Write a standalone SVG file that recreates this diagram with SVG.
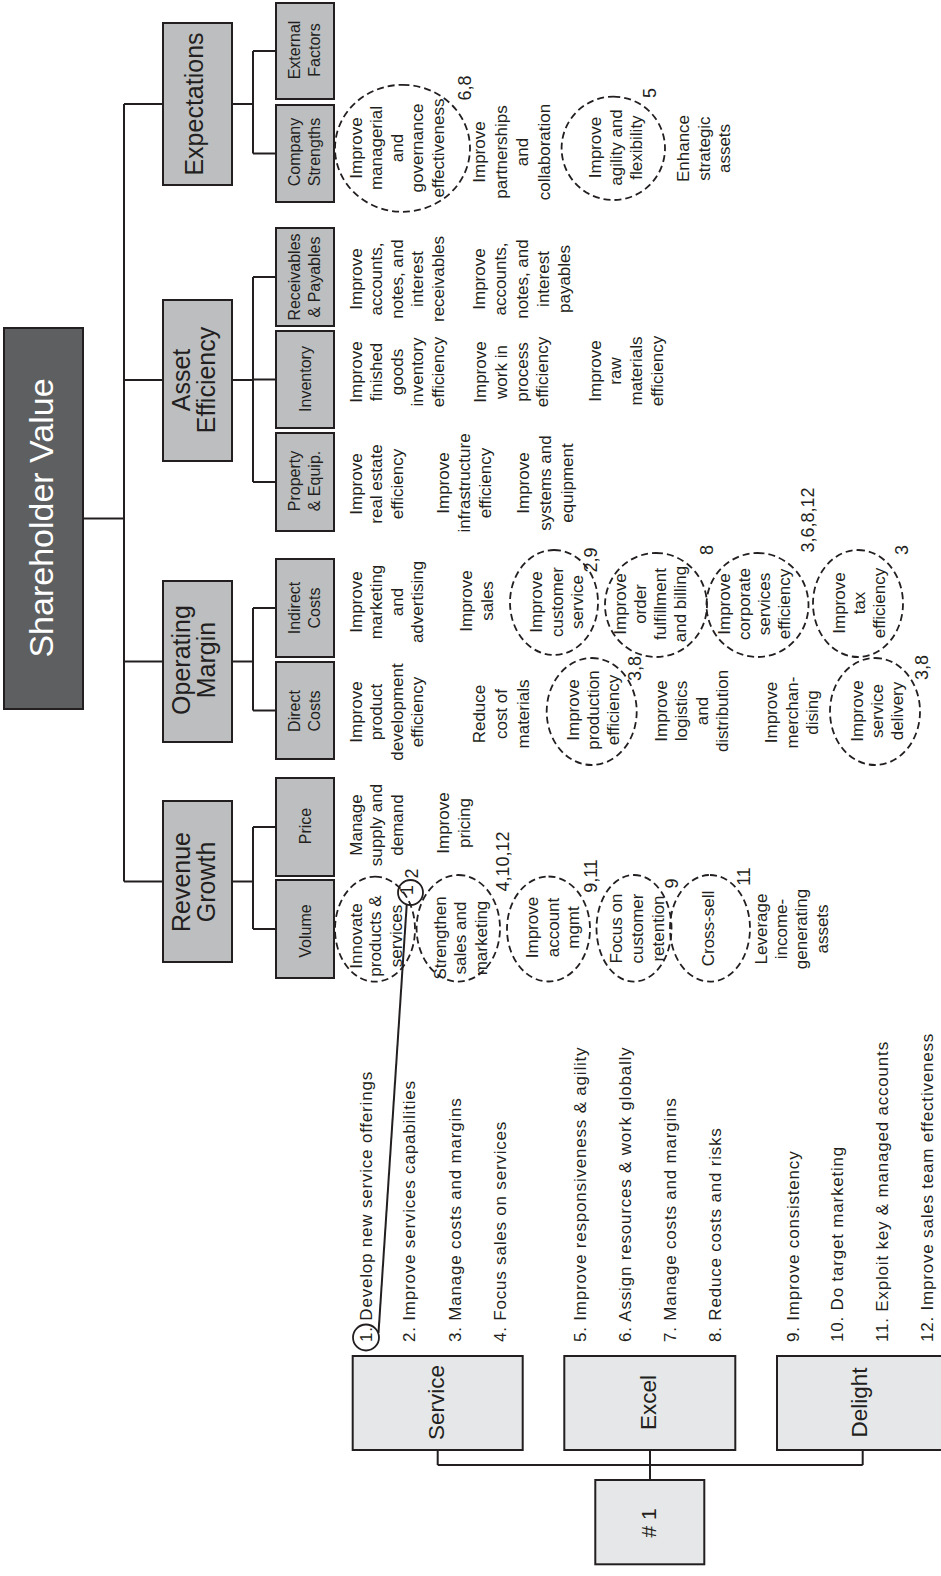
<svg xmlns="http://www.w3.org/2000/svg" width="941" height="1576" viewBox="0 0 941 1576">
<style>
.box{fill:#bcbec0;stroke:#231f20;stroke-width:2}
.lbox{fill:#e6e7e8;stroke:#231f20;stroke-width:2}
.dark{fill:#5e5f61;stroke:#231f20;stroke-width:2}
.conn{fill:none;stroke:#231f20;stroke-width:2}
.ring{fill:none;stroke:#231f20;stroke-width:1.8}
.dash{fill:none;stroke:#231f20;stroke-width:1.8;stroke-dasharray:7 4}
text{font-family:"Liberation Sans",Arial,Helvetica,sans-serif;fill:#231f20}
.t{font-size:17px;text-anchor:middle}
.cat{font-size:25px;text-anchor:middle}
.sub{font-size:16px;text-anchor:middle}
.num{font-size:18px;text-anchor:middle}
.big{font-size:22.5px;text-anchor:middle}
.list{font-size:17px;letter-spacing:0.8px}
.sv{font-size:34px;text-anchor:middle;fill:#ffffff}
</style>
<rect x="0" y="0" width="941" height="1576" fill="#ffffff"/>
<g transform="translate(0,1576) rotate(-90)">
<g id="connectors">
<path class="conn" d="M1057.5 83V124M694.5 124H1472M1472 124V163M1196 124V163M914.5 124V163M694.5 124V163"/>
<path class="conn" d="M1472 232V253M1422.5 253H1525M1422.5 253V276M1525 253V276"/>
<path class="conn" d="M1196 232V253M1094 253H1299M1094 253V276M1196.5 253V276M1299 253V276"/>
<path class="conn" d="M914.5 232V253M865.5 253H968M865.5 253V276M968 253V276"/>
<path class="conn" d="M694.5 232V253M647 253H749M647 253V276M749 253V276"/>
<path class="conn" d="M126 437.7H111M126 650H96M126 862.7H111M111 437.7V862.7"/>
<path class="conn" d="M243 378.5L671 406.7" stroke-width="1.6"/>
</g>
<g id="shareholder-value"><rect class="dark" x="867" y="4" width="381" height="79"/><text class="sv" x="1058" y="53">Shareholder Value</text></g>
<g id="expectations"><rect class="box" x="1391" y="163" width="162" height="69"/><text class="cat" x="1472" y="203">Expectations</text></g>
<g id="asset-efficiency"><rect class="box" x="1115" y="163" width="161" height="69"/><text class="cat"><tspan x="1196" y="190">Asset</tspan><tspan x="1196" y="215">Efficiency</tspan></text></g>
<g id="operating-margin"><rect class="box" x="834" y="163" width="161" height="69"/><text class="cat"><tspan x="916" y="190">Operating</tspan><tspan x="916" y="215">Margin</tspan></text></g>
<g id="revenue-growth"><rect class="box" x="614" y="163" width="161" height="69"/><text class="cat"><tspan x="694" y="190">Revenue</tspan><tspan x="694" y="215">Growth</tspan></text></g>

<g id="external-factors"><rect class="box" x="1477" y="276" width="96" height="58"/><text class="sub"><tspan x="1526" y="300">External</tspan><tspan x="1526" y="320">Factors</tspan></text></g>
<g id="company-strengths"><rect class="box" x="1374" y="276" width="97" height="58"/><text class="sub"><tspan x="1424" y="300">Company</tspan><tspan x="1424" y="320">Strengths</tspan></text></g>
<g id="receivables-payables"><rect class="box" x="1250" y="276" width="98" height="58"/><text class="sub"><tspan x="1299" y="300">Receivables</tspan><tspan x="1299" y="320">&amp; Payables</tspan></text></g>
<g id="inventory"><rect class="box" x="1148" y="276" width="97" height="58"/><text class="sub" x="1197" y="311">Inventory</text></g>
<g id="property-equip"><rect class="box" x="1045" y="276" width="98" height="58"/><text class="sub"><tspan x="1095" y="300">Property</tspan><tspan x="1095" y="320">&amp; Equip.</tspan></text></g>
<g id="indirect-costs"><rect class="box" x="919" y="276" width="98" height="58"/><text class="sub"><tspan x="968" y="300">Indirect</tspan><tspan x="968" y="320">Costs</tspan></text></g>
<g id="direct-costs"><rect class="box" x="817" y="276" width="97" height="58"/><text class="sub"><tspan x="865" y="300">Direct</tspan><tspan x="865" y="320">Costs</tspan></text></g>
<g id="price"><rect class="box" x="700" y="276" width="98" height="58"/><text class="sub" x="750" y="311">Price</text></g>
<g id="volume"><rect class="box" x="598" y="276" width="98" height="58"/><text class="sub" x="645" y="311">Volume</text></g>

<g id="company-items">
<ellipse class="dash" cx="1427.7" cy="402.5" rx="63.5" ry="67.5"/>
<text class="t"><tspan x="1428" y="361.5">Improve</tspan><tspan x="1428" y="382">managerial</tspan><tspan x="1428" y="402.5">and</tspan><tspan x="1428" y="423">governance</tspan><tspan x="1428" y="443.5">effectiveness</tspan></text>
<text class="num" x="1488" y="471">6,8</text>
<text class="t"><tspan x="1424" y="485">Improve</tspan><tspan x="1424" y="506.5">partnerships</tspan><tspan x="1424" y="528">and</tspan><tspan x="1424" y="549.5">collaboration</tspan></text>
<ellipse class="dash" cx="1427.7" cy="613.3" rx="51.7" ry="51.7"/>
<text class="t"><tspan x="1428.5" y="600.5">Improve</tspan><tspan x="1428.5" y="621.5">agility and</tspan><tspan x="1428.5" y="642">flexibility</tspan></text>
<text class="num" x="1483" y="656">5</text>
<text class="t"><tspan x="1427.5" y="689">Enhance</tspan><tspan x="1427.5" y="709.5">strategic</tspan><tspan x="1427.5" y="730">assets</tspan></text>
</g>
<g id="receivables-items">
<text class="t"><tspan x="1297" y="361.5">Improve</tspan><tspan x="1297" y="382">accounts,</tspan><tspan x="1297" y="402.5">notes, and</tspan><tspan x="1297" y="423">interest</tspan><tspan x="1297" y="443.5">receivables</tspan></text>
<text class="t"><tspan x="1297" y="485">Improve</tspan><tspan x="1297" y="506">accounts,</tspan><tspan x="1297" y="527.5">notes, and</tspan><tspan x="1297" y="548.5">interest</tspan><tspan x="1297" y="570">payables</tspan></text>
</g>
<g id="inventory-items">
<text class="t"><tspan x="1204" y="361.5">Improve</tspan><tspan x="1204" y="382">finished</tspan><tspan x="1204" y="402.5">goods</tspan><tspan x="1204" y="423">inventory</tspan><tspan x="1204" y="443.5">efficiency</tspan></text>
<text class="t"><tspan x="1204" y="486">Improve</tspan><tspan x="1204" y="507">work in</tspan><tspan x="1204" y="527.5">process</tspan><tspan x="1204" y="548">efficiency</tspan></text>
<text class="t"><tspan x="1205" y="600.5">Improve</tspan><tspan x="1205" y="621">raw</tspan><tspan x="1205" y="641.5">materials</tspan><tspan x="1205" y="662.5">efficiency</tspan></text>
</g>
<g id="property-items">
<text class="t"><tspan x="1092" y="361.5">Improve</tspan><tspan x="1092" y="382">real estate</tspan><tspan x="1092" y="402.5">efficiency</tspan></text>
<text class="t"><tspan x="1093" y="449">Improve</tspan><tspan x="1093" y="470">infrastructure</tspan><tspan x="1093" y="490.5">efficiency</tspan></text>
<text class="t"><tspan x="1093" y="528.5">Improve</tspan><tspan x="1093" y="551">systems and</tspan><tspan x="1093" y="573">equipment</tspan></text>
</g>
<g id="indirect-items">
<text class="t"><tspan x="974" y="361.5">Improve</tspan><tspan x="974" y="382">marketing</tspan><tspan x="974" y="402.5">and</tspan><tspan x="974" y="423">advertising</tspan></text>
<text class="t"><tspan x="975" y="472">Improve</tspan><tspan x="975" y="492.5">sales</tspan></text>
<ellipse class="dash" cx="973.5" cy="554" rx="52.5" ry="44"/>
<text class="t"><tspan x="974" y="542">Improve</tspan><tspan x="974" y="562.5">customer</tspan><tspan x="974" y="583">service</tspan></text>
<text class="num" x="1016" y="597">2,9</text>
<ellipse class="dash" cx="971" cy="656" rx="52" ry="51"/>
<text class="t"><tspan x="972" y="625.5">Improve</tspan><tspan x="972" y="645.5">order</tspan><tspan x="972" y="665.5">fulfillment</tspan><tspan x="972" y="685.5">and billing</tspan></text>
<text class="num" x="1026" y="713">8</text>
<ellipse class="dash" cx="971" cy="757.5" rx="52" ry="51"/>
<text class="t"><tspan x="972" y="730">Improve</tspan><tspan x="972" y="750">corporate</tspan><tspan x="972" y="770">services</tspan><tspan x="972" y="790">efficiency</tspan></text>
<text class="num" x="1056" y="814">3,6,8,12</text>
<ellipse class="dash" cx="972.5" cy="858" rx="53.5" ry="45"/>
<text class="t"><tspan x="973" y="845">Improve</tspan><tspan x="973" y="865">tax</tspan><tspan x="973" y="885">efficiency</tspan></text>
<text class="num" x="1026" y="908">3</text>
</g>
<g id="direct-items">
<text class="t"><tspan x="864" y="361.5">Improve</tspan><tspan x="864" y="382">product</tspan><tspan x="864" y="402.5">development</tspan><tspan x="864" y="423">efficiency</tspan></text>
<text class="t"><tspan x="862" y="485">Reduce</tspan><tspan x="862" y="507">cost of</tspan><tspan x="862" y="529">materials</tspan></text>
<ellipse class="dash" cx="864.5" cy="591.7" rx="53.5" ry="45"/>
<text class="t"><tspan x="866" y="578.5">Improve</tspan><tspan x="866" y="598.5">production</tspan><tspan x="866" y="618.5">efficiency</tspan></text>
<text class="num" x="907.5" y="641">3,8</text>
<text class="t"><tspan x="865" y="666.5">Improve</tspan><tspan x="865" y="687">logistics</tspan><tspan x="865" y="707.5">and</tspan><tspan x="865" y="728">distribution</tspan></text>
<text class="t"><tspan x="863.5" y="776.5">Improve</tspan><tspan x="863.5" y="797.5">merchan-</tspan><tspan x="863.5" y="818">dising</tspan></text>
<ellipse class="dash" cx="864.5" cy="875" rx="53.5" ry="45"/>
<text class="t"><tspan x="865" y="863">Improve</tspan><tspan x="865" y="883">service</tspan><tspan x="865" y="902.5">delivery</tspan></text>
<text class="num" x="908.5" y="928">3,8</text>
</g>
<g id="price-items">
<text class="t"><tspan x="751" y="361.5">Manage</tspan><tspan x="751" y="382">supply and</tspan><tspan x="751" y="402.5">demand</tspan></text>
<text class="t"><tspan x="753" y="448.5">Improve</tspan><tspan x="753" y="469.5">pricing</tspan></text>
</g>
<g id="volume-items">
<ellipse class="dash" cx="646.8" cy="375" rx="52.5" ry="40"/>
<text class="t"><tspan x="640" y="361.5">Innovate</tspan><tspan x="640" y="381">products &amp;</tspan><tspan x="640" y="402">services</tspan></text>
<circle class="ring" cx="683.5" cy="410.5" r="12.5"/>
<text class="num" x="686" y="412.5">1</text>
<text class="num" x="702.5" y="418">2</text>
<ellipse class="dash" cx="647.7" cy="458.3" rx="53.3" ry="41.7"/>
<text class="t"><tspan x="638" y="445.5">Strengthen</tspan><tspan x="638" y="466">sales and</tspan><tspan x="638" y="487">marketing</tspan></text>
<text class="num" x="714.5" y="509">4,10,12</text>
<ellipse class="dash" cx="647" cy="548.5" rx="52.5" ry="41.5"/>
<text class="t"><tspan x="648.5" y="537.5">Improve</tspan><tspan x="648.5" y="558.5">account</tspan><tspan x="648.5" y="579">mgmt</tspan></text>
<text class="num" x="700" y="596.5">9,11</text>
<ellipse class="dash" cx="647.7" cy="634" rx="53.3" ry="37.5"/>
<text class="t"><tspan x="647.5" y="622">Focus on</tspan><tspan x="647.5" y="643">customer</tspan><tspan x="647.5" y="663.5">retention</tspan></text>
<text class="num" x="692.5" y="678">9</text>
<ellipse class="dash" cx="647.7" cy="710" rx="53.3" ry="40"/>
<text class="t" x="647.5" y="714">Cross-sell</text>
<text class="num" x="699.5" y="750">11</text>
<text class="t"><tspan x="647" y="766.5">Leverage</tspan><tspan x="647" y="787">income-</tspan><tspan x="647" y="807">generating</tspan><tspan x="647" y="827.5">assets</tspan></text>
</g>

<g id="number-one"><rect class="lbox" x="11.7" y="595.3" width="84.3" height="109"/><text class="big" x="53" y="656" style="font-size:21px">#&#160;1</text></g>
<g id="service"><rect class="lbox" x="126" y="352.7" width="94" height="170"/><text class="big" x="173.5" y="444">Service</text></g>
<g id="excel"><rect class="lbox" x="126" y="564.3" width="94" height="171"/><text class="big" x="173.5" y="656">Excel</text></g>
<g id="delight"><rect class="lbox" x="126" y="777" width="94" height="171"/><text class="big" x="173.5" y="867">Delight</text></g>

<g id="list">
<circle class="ring" cx="238.5" cy="366" r="13"/>
<text class="list" x="234" y="371.5">1. Develop new service offerings</text>
<text class="list" x="234" y="415">2. Improve services capabilities</text>
<text class="list" x="234" y="460.5">3. Manage costs and margins</text>
<text class="list" x="234" y="505.5">4. Focus sales on services</text>
<text class="list" x="234" y="586">5. Improve responsiveness &amp; agility</text>
<text class="list" x="234" y="631">6. Assign resources &amp; work globally</text>
<text class="list" x="234" y="676">7. Manage costs and margins</text>
<text class="list" x="234" y="721">8. Reduce costs and risks</text>
<text class="list" x="234" y="799">9. Improve consistency</text>
<text class="list" x="234" y="843">10. Do target marketing</text>
<text class="list" x="234" y="888">11. Exploit key &amp; managed accounts</text>
<text class="list" x="234" y="933">12. Improve sales team effectiveness</text>
</g>
</g>
</svg>
